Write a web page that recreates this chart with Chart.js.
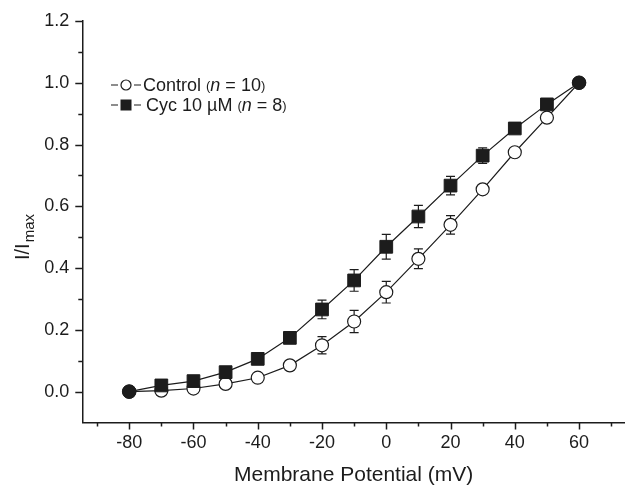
<!DOCTYPE html>
<html>
<head>
<meta charset="utf-8">
<script src="https://cdn.jsdelivr.net/npm/chart.js@4"></script>
<style>
  body { margin: 0; background: #fff; }
  #wrap { width: 625px; height: 491px; }
</style>
</head>
<body>
<div id="wrap"><canvas id="myChart"></canvas></div>
<script>
// membrane potential steps (mV)
const voltages = [-80, -70, -60, -50, -40, -30, -20, -10, 0, 10, 20, 30, 40, 50, 60];
// normalised current I/Imax, mean and error
const controlMean = [0, 0.003, 0.01, 0.025, 0.045, 0.085, 0.15, 0.227, 0.322, 0.43, 0.54, 0.655, 0.775, 0.887, 1.0];
const controlErr = [0, 0.006, 0.008, 0.006, 0.006, 0.008, 0.028, 0.036, 0.035, 0.032, 0.03, 0.012, 0.01, 0.006, 0];
const cycMean = [0, 0.02, 0.034, 0.063, 0.106, 0.174, 0.266, 0.36, 0.469, 0.567, 0.667, 0.764, 0.852, 0.93, 1.0];
const cycErr = [0, 0.006, 0.008, 0.006, 0.008, 0.008, 0.03, 0.035, 0.04, 0.036, 0.03, 0.025, 0.01, 0.006, 0];

const xTicks = [-90, -80, -70, -60, -50, -40, -30, -20, -10, 0, 10, 20, 30, 40, 50, 60, 70];
const xLabels = [-80, -60, -40, -20, 0, 20, 40, 60];
const yTicks = [0, 0.1, 0.2, 0.3, 0.4, 0.5, 0.6, 0.7, 0.8, 0.9, 1.0, 1.1, 1.2];
const yLabels = [0, 0.2, 0.4, 0.6, 0.8, 1.0, 1.2];

const legendItems = ['Control', 'Cyc 10 \u00b5M'];
const legendN = ['10', '8'];

const INK = '#1c1c1c';
const FONT = '"Liberation Sans", Arial, sans-serif';

const isLabel = (list, v) => list.some(l => Math.abs(l - v) < 1e-6);
const isEnd = (i) => i === 0 || i === voltages.length - 1;

const toPoints = (ys) => voltages.map((v, i) => ({x: v, y: ys[i]}));

// error bars, drawn under the markers
const errorBars = {
  id: 'errorBars',
  beforeDatasetsDraw(chart) {
    const ctx = chart.ctx;
    const xs = chart.scales.x, ys = chart.scales.y;
    const sets = [[cycMean, cycErr], [controlMean, controlErr]];
    ctx.save();
    ctx.strokeStyle = INK;
    ctx.lineWidth = 1.2;
    sets.forEach(([m, e]) => {
      voltages.forEach((v, i) => {
        if (!e[i]) return;
        const px = xs.getPixelForValue(v);
        const top = ys.getPixelForValue(m[i] + e[i]);
        const bot = ys.getPixelForValue(m[i] - e[i]);
        ctx.beginPath();
        ctx.moveTo(px, top); ctx.lineTo(px, bot);
        ctx.moveTo(px - 4.5, top); ctx.lineTo(px + 4.5, top);
        ctx.moveTo(px - 4.5, bot); ctx.lineTo(px + 4.5, bot);
        ctx.stroke();
      });
    });
    ctx.restore();
  }
};

// tick marks (long for labelled, short for the others), legend and y title
const decorations = {
  id: 'decorations',
  afterDraw(chart) {
    const ctx = chart.ctx;
    const xs = chart.scales.x, ys = chart.scales.y;
    const area = chart.chartArea;
    ctx.save();
    ctx.strokeStyle = INK;
    ctx.lineWidth = 1.5;
    ctx.beginPath();
    xTicks.forEach(v => {
      const px = Math.round(xs.getPixelForValue(v)) + 0.5;
      const len = isLabel(xLabels, v) ? 7 : 4;
      ctx.moveTo(px, area.bottom); ctx.lineTo(px, area.bottom + len);
    });
    yTicks.forEach(v => {
      const py = Math.round(ys.getPixelForValue(v)) + 0.5;
      const len = isLabel(yLabels, v) ? 7 : 4;
      ctx.moveTo(area.left, py); ctx.lineTo(area.left - len, py);
    });
    ctx.stroke();

    // legend
    const rows = [85, 105];
    ctx.fillStyle = INK;
    ctx.textBaseline = 'middle';
    rows.forEach((ry, i) => {
      ctx.lineWidth = 1.2;
      ctx.beginPath();
      ctx.moveTo(111, ry); ctx.lineTo(118, ry);
      ctx.moveTo(134, ry); ctx.lineTo(141, ry);
      ctx.stroke();
      if (i === 0) {
        ctx.beginPath();
        ctx.arc(126, ry, 5, 0, Math.PI * 2);
        ctx.fillStyle = '#fff'; ctx.fill();
        ctx.stroke();
      } else {
        ctx.fillStyle = INK;
        ctx.fillRect(120.5, ry - 5.5, 11, 11);
      }
      ctx.fillStyle = INK;
      let tx = i === 0 ? 143 : 146;
      const parts = [
        [legendItems[i] + ' ', '18px ' + FONT],
        ['(', '13px ' + FONT],
        ['n', 'italic 18px ' + FONT],
        [' = ' + legendN[i], '18px ' + FONT],
        [')', '13px ' + FONT]
      ];
      parts.forEach(([t, f]) => {
        ctx.font = f;
        ctx.fillText(t, tx, ry + 1);
        tx += ctx.measureText(t).width;
      });
    });

    // y axis title I/Imax
    ctx.translate(29, 260);
    ctx.rotate(-Math.PI / 2);
    ctx.textBaseline = 'alphabetic';
    ctx.font = '20px ' + FONT;
    ctx.fillText('I/I', 0, 0);
    const w = ctx.measureText('I/I').width;
    ctx.font = '15px ' + FONT;
    ctx.fillText('max', w + 1, 5);
    ctx.restore();
  }
};

new Chart(document.getElementById('myChart'), {
  type: 'line',
  data: {
    datasets: [
      {
        label: 'Cyc 10 \u00b5M',
        data: toPoints(cycMean),
        borderColor: INK,
        borderWidth: 1.2,
        pointStyle: voltages.map((v, i) => isEnd(i) ? 'circle' : 'rect'),
        pointRadius: voltages.map((v, i) => isEnd(i) ? 6.8 : 9),
        pointBackgroundColor: INK,
        pointBorderColor: INK,
        pointBorderWidth: 1,
        tension: 0
      },
      {
        label: 'Control',
        data: toPoints(controlMean),
        borderColor: INK,
        borderWidth: 1.2,
        pointStyle: 'circle',
        pointRadius: 6.5,
        pointBackgroundColor: voltages.map((v, i) => isEnd(i) ? INK : '#fff'),
        pointBorderColor: INK,
        pointBorderWidth: 1.2,
        tension: 0
      }
    ]
  },
  options: {
    responsive: true,
    maintainAspectRatio: false,
    animation: false,
    layout: { autoPadding: false, padding: { top: 21, right: 0, left: 0, bottom: 0 } },
    plugins: { legend: { display: false }, tooltip: { enabled: false } },
    scales: {
      x: {
        type: 'linear',
        min: -94.6,
        max: 74.3,
        afterBuildTicks: (scale) => { scale.ticks = xTicks.map(v => ({value: v})); },
        afterFit: (scale) => { scale.height = 68.5; },
        ticks: {
          color: INK,
          font: { family: FONT, size: 18 },
          padding: 3,
          maxRotation: 0,
          autoSkip: false,
          callback: (v) => isLabel(xLabels, v) ? String(v) : ''
        },
        grid: { drawOnChartArea: false, drawTicks: true, tickLength: 7, tickColor: 'rgba(0,0,0,0)' },
        border: { display: true, color: INK, width: 1.5 },
        title: {
          display: true,
          text: 'Membrane Potential (mV)',
          color: INK,
          font: { family: FONT, size: 21 },
          padding: { top: 4, bottom: 3 }
        }
      },
      y: {
        min: -0.1,
        max: 1.2,
        afterBuildTicks: (scale) => { scale.ticks = yTicks.map(v => ({value: v})); },
        afterFit: (scale) => { scale.width = 82.3; },
        ticks: {
          color: INK,
          font: { family: FONT, size: 18 },
          padding: 6,
          autoSkip: false,
          callback: (v) => isLabel(yLabels, v) ? v.toFixed(1) : ''
        },
        grid: { drawOnChartArea: false, drawTicks: true, tickLength: 7, tickColor: 'rgba(0,0,0,0)' },
        border: { display: true, color: INK, width: 1.5 }
      }
    }
  },
  plugins: [errorBars, decorations]
});
</script>
</body>
</html>
